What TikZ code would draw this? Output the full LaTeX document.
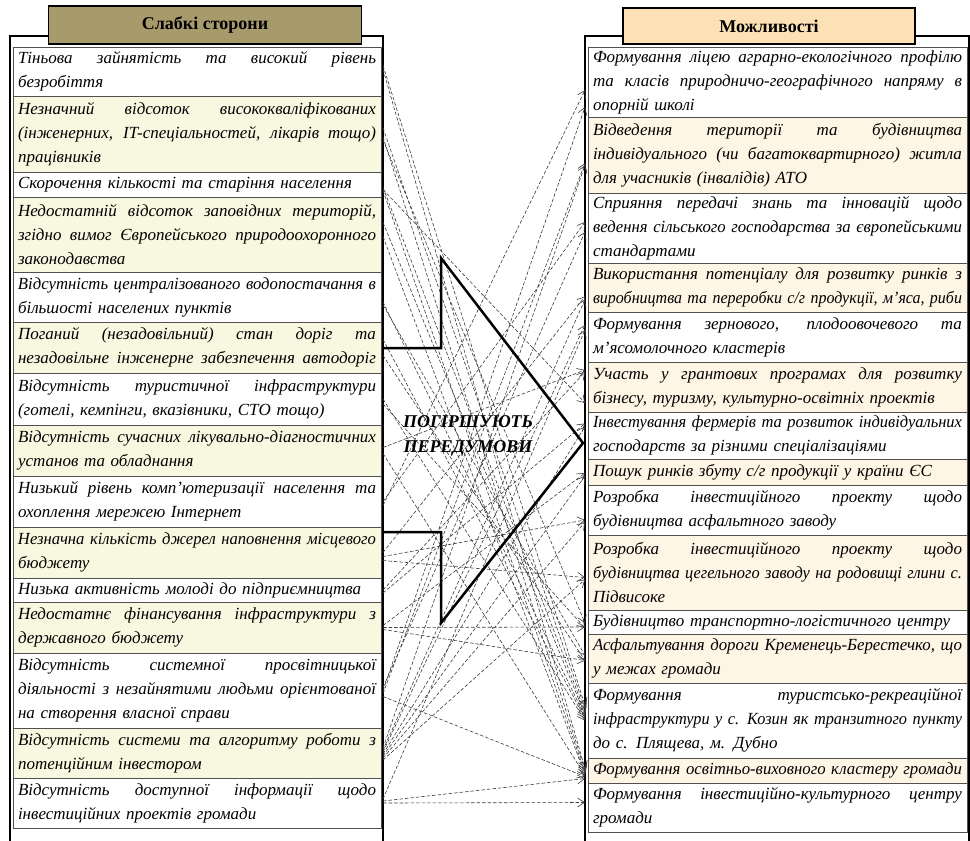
\documentclass[tikz,border=0pt]{standalone}
\usepackage{fontspec}
\usepackage{graphicx}
\setmainfont{Liberation Serif}
\usetikzlibrary{positioning,arrows.meta}
\setlength{\parindent}{0pt}

\definecolor{weakhead}{HTML}{A89B6B}
\definecolor{opphead}{HTML}{FCE0B6}
\definecolor{weakfill}{HTML}{F8F8E1}
\definecolor{oppfill}{HTML}{FEF5E5}
\definecolor{cellline}{HTML}{505050}
\definecolor{linkgray}{HTML}{3A3A3A}

% width of the text in a cell
\newlength{\cellw}
% one justified line of a cell (squeezed when too long)
\newcommand{\jl}[1]{\leavevmode\sbox0{#1}\ifdim\wd0>\cellw\resizebox{\cellw}{\height}{#1}\else
    \hbox to \cellw{\spaceskip=\fontdimen2\font plus 1fil\relax #1}\fi}
% last (ragged) line of a cell
\newcommand{\ol}[1]{\leavevmode\sbox0{#1}\ifdim\wd0>\cellw\resizebox{\cellw}{\height}{#1}\else\usebox0\fi}

\tikzset{
    cell/.style={draw=cellline, line width=0.8pt, inner xsep=5pt, inner ysep=0pt, outer sep=0pt,
        align=left, font=\fontsize{17}{24}\selectfont\itshape},
    weakcell/.style={cell, text width=358pt, execute at begin node={\setlength{\cellw}{358pt}}},
    oppcell/.style={cell, text width=369pt, execute at begin node={\setlength{\cellw}{369pt}}},
    headbox/.style={draw=black, line width=1.6pt, inner sep=0pt,
        font=\fontsize{18}{22}\selectfont\bfseries},
    frame/.style={draw=black, line width=2pt},
    link/.style={draw=linkgray, line width=0.6pt, dash pattern=on 3.5pt off 2pt,
        -{Straight Barb[length=7pt,width=9pt]}},
}

\begin{document}
\begin{tikzpicture}[x=1pt, y=-1pt]
    \useasboundingbox (0,0) rectangle (970,841);

    % Outer frames of both panels
    \draw[frame] (10,36) rectangle (383,870);
    \draw[frame] (585,36) rectangle (969,870);

    % Headers
    \node[headbox, fill=weakhead, minimum width=313pt, minimum height=38pt] (weak) at (205,25) {Слабкі сторони};
    \node[headbox, fill=opphead, minimum width=292pt, minimum height=36pt] (opp) at (769,26) {Можливості};

    % Left column: weaknesses
    \node[weakcell, anchor=north west, minimum height=49pt] (w1) at (13,47)
        {\jl{Тіньова зайнятість та високий рівень}\\\ol{безробіття}};
    \node[weakcell, fill=weakfill, minimum height=76pt, below=0pt of w1] (w2)
        {\jl{Незначний відсоток висококваліфікованих}\\\jl{(інженерних, IT-спеціальностей, лікарів тощо)}\\\ol{працівників}};
    \node[weakcell, minimum height=25pt, below=0pt of w2] (w3)
        {\ol{Скорочення кількості та старіння населення}};
    \node[weakcell, fill=weakfill, minimum height=75pt, below=0pt of w3] (w4)
        {\jl{Недостатній відсоток заповідних територій,}\\\jl{згідно вимог Європейського природоохоронного}\\\ol{законодавства}};
    \node[weakcell, minimum height=50pt, below=0pt of w4] (w5)
        {\jl{Відсутність централізованого водопостачання в}\\\ol{більшості населених пунктів}};
    \node[weakcell, fill=weakfill, minimum height=51pt, below=0pt of w5] (w6)
        {\jl{Поганий (незадовільний) стан доріг та}\\\jl{незадовільне інженерне забезпечення автодоріг}};
    \node[weakcell, minimum height=52pt, below=0pt of w6] (w7)
        {\jl{Відсутність туристичної інфраструктури}\\\ol{(готелі, кемпінги, вказівники, СТО тощо)}};
    \node[weakcell, fill=weakfill, minimum height=51pt, below=0pt of w7] (w8)
        {\jl{Відсутність сучасних лікувально-діагностичних}\\\ol{установ та обладнання}};
    \node[weakcell, minimum height=51pt, below=0pt of w8] (w9)
        {\jl{Низький рівень комп’ютеризації населення та}\\\ol{охоплення мережею Інтернет}};
    \node[weakcell, fill=weakfill, minimum height=51pt, below=0pt of w9] (w10)
        {\jl{Незначна кількість джерел наповнення місцевого}\\\ol{бюджету}};
    \node[weakcell, minimum height=24pt, below=0pt of w10] (w11)
        {\ol{Низька активність молоді до підприємництва}};
    \node[weakcell, fill=weakfill, minimum height=51pt, below=0pt of w11] (w12)
        {\jl{Недостатнє фінансування інфраструктури з}\\\ol{державного бюджету}};
    \node[weakcell, minimum height=75pt, below=0pt of w12] (w13)
        {\jl{Відсутність системної просвітницької}\\\jl{діяльності з незайнятими людьми орієнтованої}\\\ol{на створення власної справи}};
    \node[weakcell, fill=weakfill, minimum height=50pt, below=0pt of w13] (w14)
        {\jl{Відсутність системи та алгоритму роботи з}\\\ol{потенційним інвестором}};
    \node[weakcell, minimum height=50pt, below=0pt of w14] (w15)
        {\jl{Відсутність доступної інформації щодо}\\\ol{інвестиційних проектів громади}};

    % Right column: opportunities
    \node[oppcell, anchor=north west, minimum height=70pt] (o1) at (588,47)
        {\jl{Формування ліцею аграрно-екологічного профілю}\\\jl{та класів природничо-географічного напряму в}\\\ol{опорній школі}};
    \node[oppcell, fill=oppfill, minimum height=76pt, below=0pt of o1] (o2)
        {\jl{Відведення території та будівництва}\\\jl{індивідуального (чи багатоквартирного) житла}\\\ol{для учасників (інвалідів) АТО}};
    \node[oppcell, minimum height=70pt, below=0pt of o2] (o3)
        {\jl{Сприяння передачі знань та інновацій щодо}\\\jl{ведення сільського господарства за європейськими}\\\ol{стандартами}};
    \node[oppcell, fill=oppfill, minimum height=49pt, below=0pt of o3] (o4)
        {\jl{Використання потенціалу для розвитку ринків з}\\\jl{виробництва та переробки с/г продукції, м’яса, риби}};
    \node[oppcell, minimum height=50pt, below=0pt of o4] (o5)
        {\jl{Формування зернового, плодоовочевого та}\\\ol{м’ясомолочного кластерів}};
    \node[oppcell, fill=oppfill, minimum height=50pt, below=0pt of o5] (o6)
        {\jl{Участь у грантових програмах для розвитку}\\\ol{бізнесу, туризму, культурно-освітніх проектів}};
    \node[oppcell, minimum height=47pt, below=0pt of o6] (o7)
        {\jl{Інвестування фермерів та розвиток індивідуальних}\\\ol{господарств за різними спеціалізаціями}};
    \node[oppcell, fill=oppfill, minimum height=26pt, below=0pt of o7] (o8)
        {\ol{Пошук ринків збуту с/г продукції у країни ЄС}};
    \node[oppcell, minimum height=50pt, below=0pt of o8] (o9)
        {\jl{Розробка інвестиційного проекту щодо}\\\ol{будівництва асфальтного заводу}};
    \node[oppcell, fill=oppfill, minimum height=75pt, below=0pt of o9] (o10)
        {\jl{Розробка інвестиційного проекту щодо}\\\jl{будівництва цегельного заводу на родовищі глини с.}\\\ol{Підвисоке}};
    \node[oppcell, minimum height=24pt, below=0pt of o10] (o11)
        {\ol{Будівництво транспортно-логістичного центру}};
    \node[oppcell, fill=oppfill, minimum height=49pt, below=0pt of o11] (o12)
        {\jl{Асфальтування дороги Кременець-Берестечко, що}\\\ol{у межах громади}};
    \node[oppcell, minimum height=75pt, below=0pt of o12] (o13)
        {\jl{Формування туристсько-рекреаційної}\\\jl{інфраструктури у с. Козин як транзитного пункту}\\\ol{до с. Плящева, м. Дубно}};
    \node[oppcell, fill=oppfill, minimum height=25pt, below=0pt of o13] (o14)
        {\ol{Формування освітньо-виховного кластеру громади}};
    \node[oppcell, minimum height=49pt, below=0pt of o14] (o15)
        {\jl{Формування інвестиційно-культурного центру}\\\ol{громади}};

    % Dashed links: weakness -> opportunity (shifts in pt, up is positive)
    \foreach \a/\sa/\b/\sb in {
        w1/6/o13/15, w1/2/o14/2,
        w2/6/o13/12, w2/-3/o14/0, w2/-6/o11/-1,
        w3/-5/o6/-16, w3/-3/o13/9, w3/-6/o14/-2,
        w4/12/o13/6, w4/-2/o14/-4,
        w5/-5/o13/4, w5/-8/o12/3,
        w6/8/o13/2, w6/-8/o12/-2,
        w7/0/o13/0, w7/-5/o11/-6,
        w8/3/o6/17, w8/-3/o14/-5,
        w9/0/o3/6, w9/-4/o1/-8,
        w10/0/o4/-9, w10/-4/o9/-10, w10/-8/o10/-5,
        w11/0/o6/15, w11/-3/o7/12,
        w12/0/o11/-5, w12/-2/o12/-2, w12/2/o8/-1,
        w13/0/o1/-25, w13/-3/o2/-8, w13/3/o3/-4, w13/-6/o14/-6,
        w14/5/o2/-10, w14/3/o4/-12, w14/1/o5/12, w14/-1/o7/9,
        w14/-3/o8/-4, w14/-5/o9/-12, w14/-7/o10/-7,
        w15/0/o15/5, w15/2/o14/-8, w15/4/o5/7}
        \draw[link] ([xshift=2pt, yshift=\sa pt]\a.east) -- ([xshift=-3pt, yshift=\sb pt]\b.west);

    % Big arrow between the panels
    \draw[line width=2.5pt, line join=miter] (383,348) -- (441,348) -- (441,258) -- (583,443)
        -- (441,623) -- (441,532) -- (383,532);
    \node[align=center, font=\fontsize{18}{25}\selectfont\bfseries\itshape] (worsen) at (468,436)
        {ПОГІРШУЮТЬ\\ПЕРЕДУМОВИ};
\end{tikzpicture}
\end{document}
